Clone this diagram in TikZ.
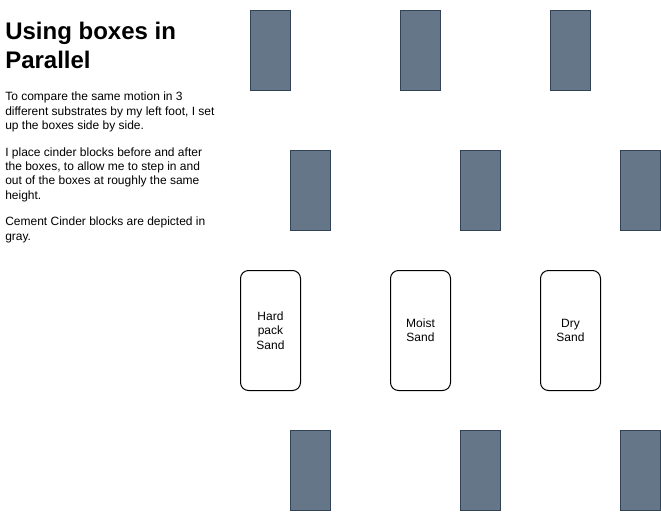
\documentclass[tikz,border=0pt]{standalone}
\usepackage{fontspec}
\setmainfont{Liberation Sans}
\begin{document}
\begin{tikzpicture}[x=0.75pt,y=-0.75pt,
  block/.style={draw=blockline,fill=blockfill,line width=0.75pt,minimum width=30pt,minimum height=60pt,inner sep=0pt,anchor=north west},
  sandbox/.style={draw=black,rounded corners=6pt,line width=0.75pt,minimum width=45pt,minimum height=90pt,inner sep=0pt,anchor=north west,align=center,font=\fontsize{9}{10.75}\selectfont},
  para/.style={anchor=north west,inner sep=0pt,align=left,font=\fontsize{9}{10.75}\selectfont}]
\definecolor{blockfill}{HTML}{647687}
\definecolor{blockline}{HTML}{314354}
\useasboundingbox (0,0) rectangle (661,511);
% title and text
\node[anchor=north west,inner sep=0pt,align=left,font=\fontsize{18}{21.75}\selectfont\bfseries] (title) at (5,22) {Using boxes in\\Parallel};
\node[para] (p1) at (5,92) {To compare the same motion in 3\\different substrates by my left foot, I set\\up the boxes side by side.};
\node[para] (p2) at (5,147.3) {I place cinder blocks before and after\\the boxes, to allow me to step in and\\out of the boxes at roughly the same\\height.};
\node[para] (p3) at (5,217) {Cement Cinder blocks are depicted in\\gray.};
% top row
\node[block] (a1) at (250,10) {};
\node[block] (a2) at (400,10) {};
\node[block] (a3) at (550,10) {};
% second row
\node[block] (b1) at (290,150) {};
\node[block] (b2) at (460,150) {};
\node[block] (b3) at (620,150) {};
% sand boxes
\node[sandbox] (s1) at (240,270) {Hard\\pack\\Sand};
\node[sandbox] (s2) at (390,270) {Moist\\Sand};
\node[sandbox] (s3) at (540,270) {Dry\\Sand};
% bottom row
\node[block] (c1) at (290,430) {};
\node[block] (c2) at (460,430) {};
\node[block] (c3) at (620,430) {};
\end{tikzpicture}
\end{document}
